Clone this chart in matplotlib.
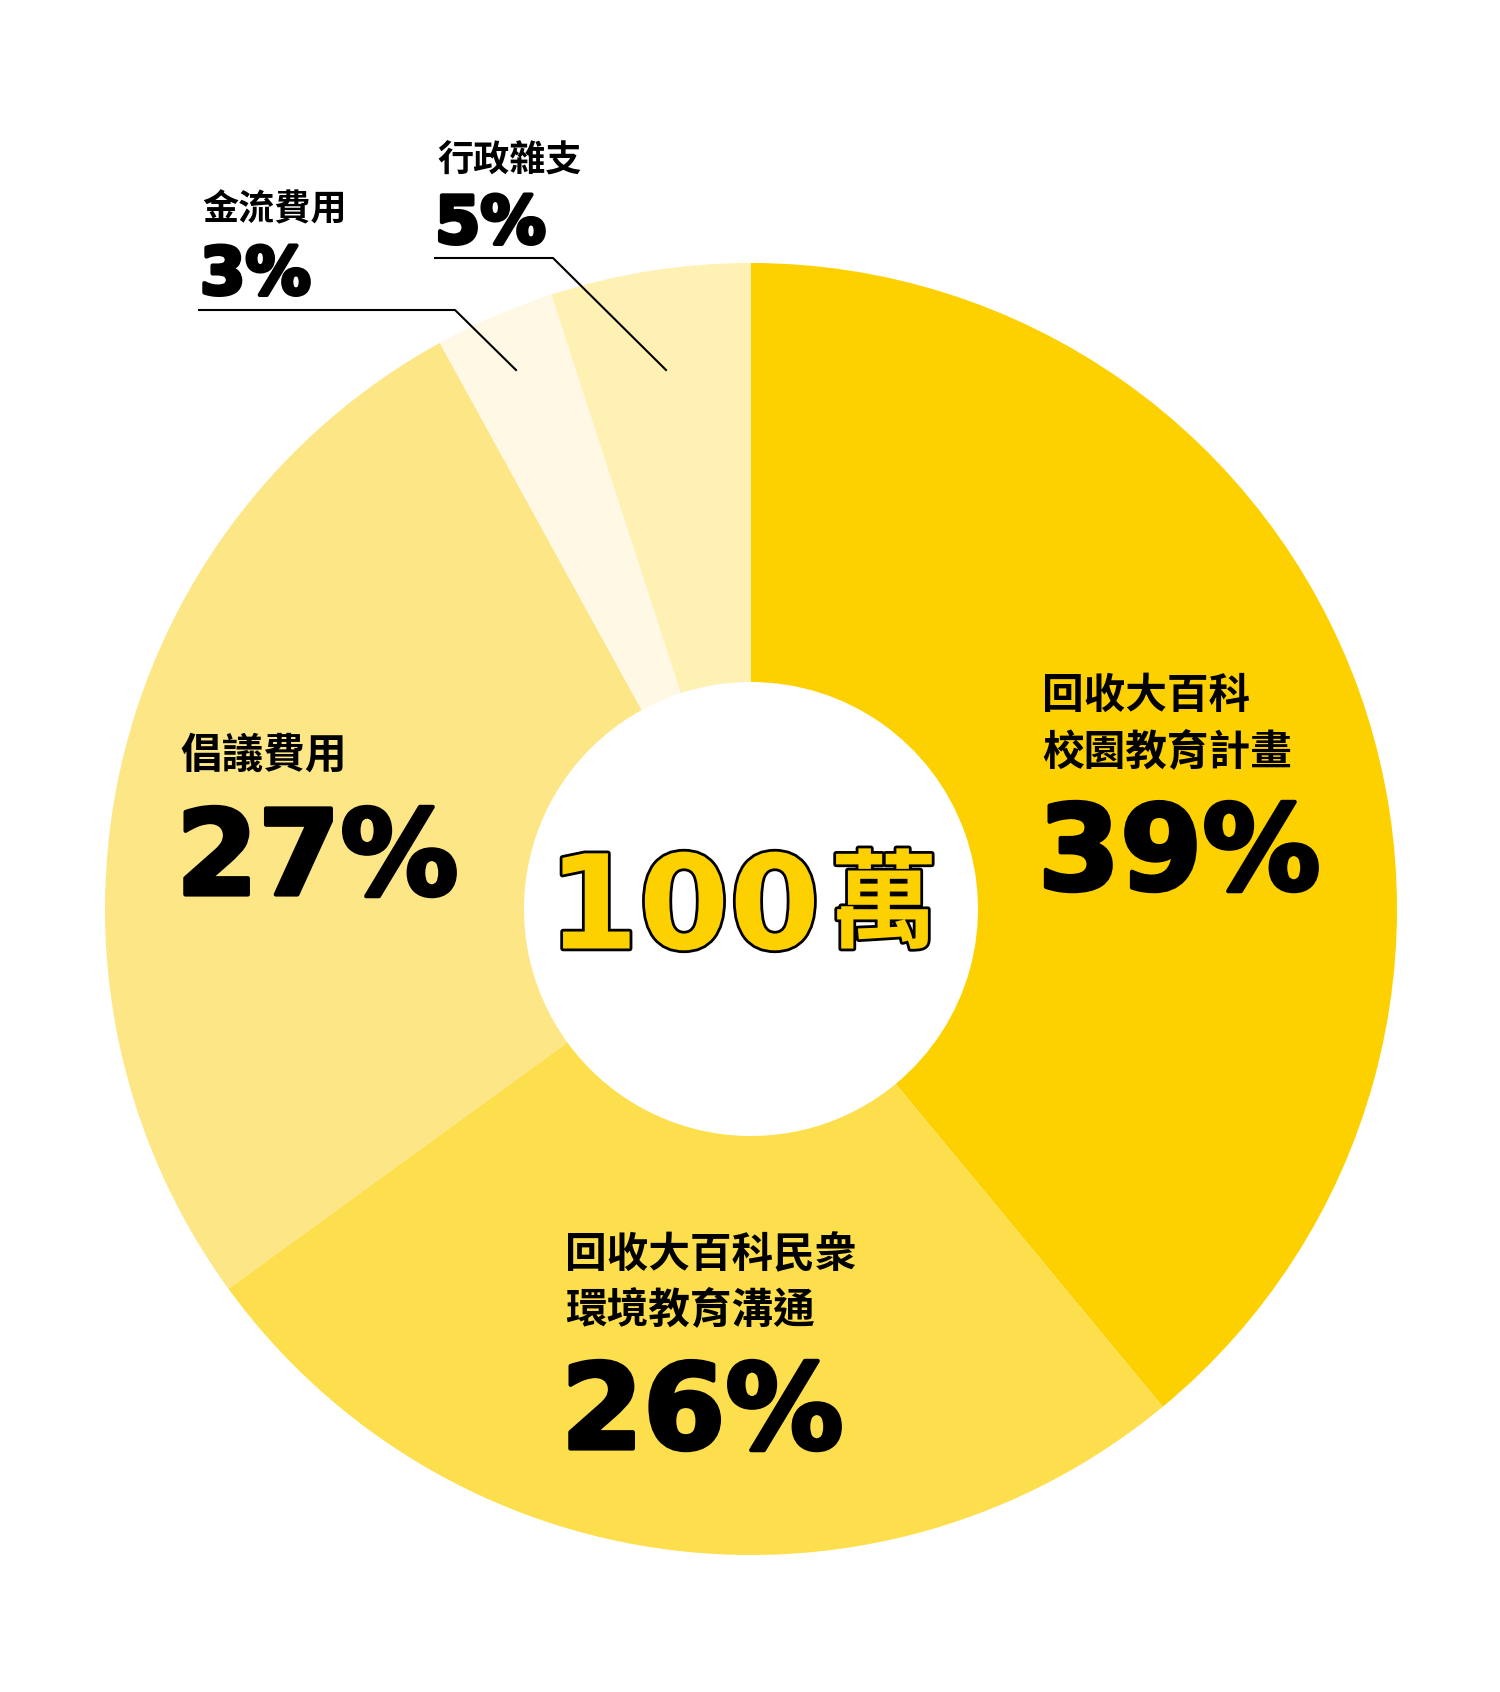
import matplotlib
matplotlib.use("Agg")
import matplotlib.pyplot as plt
import matplotlib.patheffects as pe

plt.rcParams['font.family'] = ['Noto Sans CJK TC', 'DejaVu Sans']

# data
categories = ["回收大百科\n校園教育計畫", "回收大百科民衆\n環境教育溝通", "倡議費用", "金流費用", "行政雜支"]
shares = [39, 26, 27, 3, 5]
colors = ["#FDD000", "#FDDF4E", "#FDE686", "#FFF8E4", "#FEF1B3"]
total_value = "100"
total_unit = "萬"

W, H = 1500, 1692
fig = plt.figure(figsize=(W / 100, H / 100), dpi=100)
ax = fig.add_axes([0, 0, 1, 1])

def Y(y):
    # image row -> data y
    return H - y

cx, cy = 751, 909
r_out, r_in = 646, 227

ax.pie(shares, colors=colors, startangle=90, counterclock=False,
       center=(cx, Y(cy)), radius=r_out, frame=True,
       wedgeprops=dict(width=r_out - r_in, linewidth=0))
ax.set_xlim(0, W)
ax.set_ylim(0, H)
ax.set_aspect("equal")
ax.axis("off")

pct = [f"{v}%" for v in shares]
num_font = dict(family="DejaVu Sans", weight="bold", color="black",
                path_effects=[pe.withStroke(linewidth=3, foreground="black")])
lab_font = dict(weight="bold", color="black")

# big labels (x, label centre y, pct centre y)
big = {0: (1042, [696, 752], 857), 1: (565, [1255, 1310], 1416), 2: (180, [756], 862)}
for i, (x, ly, py) in big.items():
    for line, yy in zip(categories[i].split("\n"), ly):
        ax.text(x, Y(yy), line, fontsize=30, ha="left", va="center", **lab_font)
    ax.text(x - 4, Y(py), pct[i], fontsize=85, ha="left", va="center", **num_font)

# small labels with leader lines
small = {3: (202, 210, 276, [(199, 310), (455, 310), (516, 370)]),
         4: (437, 160, 225, [(435, 258), (553, 258), (666, 370)])}
for i, (x, ly, py, pts) in small.items():
    ax.text(x, Y(ly), categories[i], fontsize=26, ha="left", va="center", **lab_font)
    ax.text(x - 2, Y(py), pct[i], fontsize=47, ha="left", va="center", **num_font)
    ax.plot([p[0] for p in pts], [Y(p[1]) for p in pts], color="black", lw=1.5)

stroke = [pe.withStroke(linewidth=4, foreground="black")]
ax.text(820, Y(912), total_value, fontsize=94, family="DejaVu Sans", weight="bold",
        color="#FDD000", ha="right", va="center", path_effects=stroke)
ax.text(884, Y(908), total_unit, fontsize=77, weight="black", color="#FDD000",
        ha="center", va="center", path_effects=stroke)

fig.savefig("out.png", dpi=100, facecolor="white")
